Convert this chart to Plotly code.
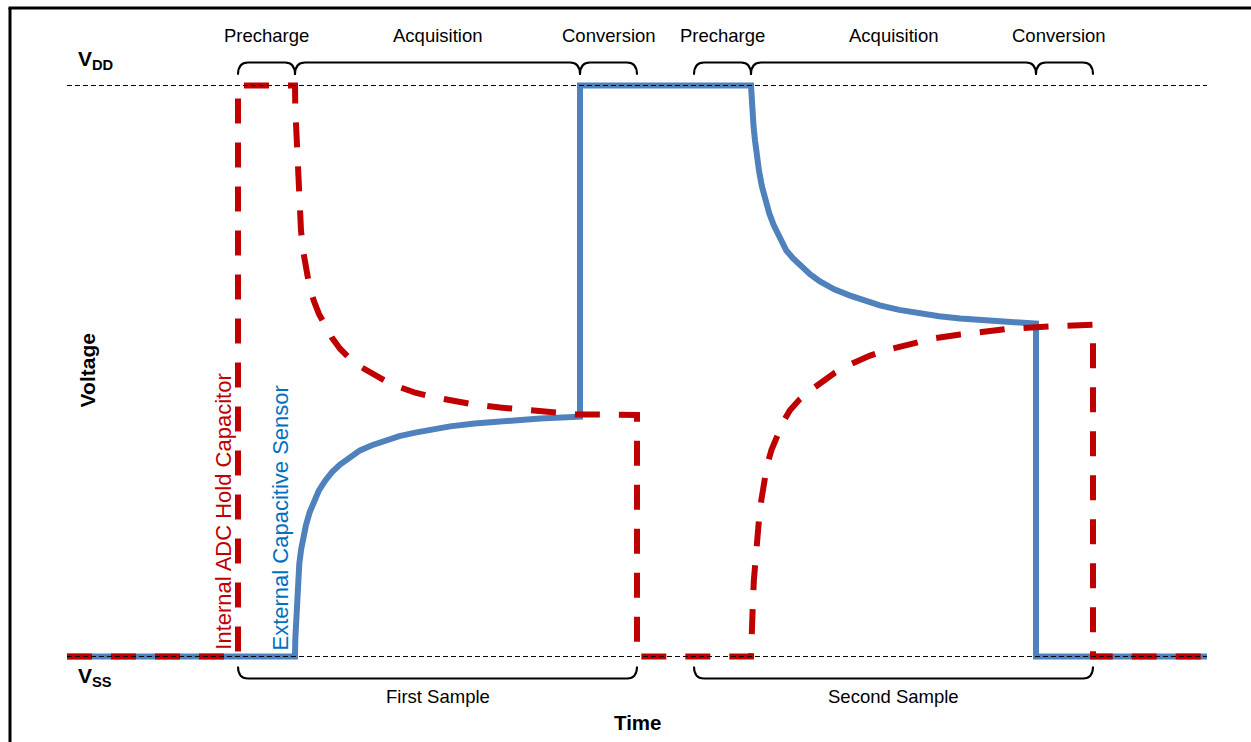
import plotly.graph_objects as go

# ---------------- data (time in arbitrary units, voltage normalised: VSS = 0, VDD = 1) ----------------
t_start, t_end = 0, 200
v_ss, v_dd = 0.0, 1.0

phase_labels = ["Precharge", "Acquisition", "Conversion", "Precharge", "Acquisition", "Conversion"]
phase_start = [30, 40, 90, 110, 120, 170]
phase_end = [40, 90, 100, 120, 170, 180]
phase_label_t = [35, 65, 95, 115, 145, 174]

sample_labels = ["First Sample", "Second Sample"]
sample_start = [30, 110]
sample_end = [100, 180]

# External capacitive sensor (blue)
sensor_rise_t = [40, 40.05, 40.2, 40.35, 40.5, 40.75, 41.05, 41.45, 41.9, 42.55, 43.3, 44.2, 45.3, 46.5,
                 47.9, 49.6, 51.4, 53.5, 55.8, 58.3, 61.1, 64, 67.2, 71.5, 76, 83, 90]
sensor_rise_v = [0, 0.03, 0.063, 0.1, 0.133, 0.162, 0.186, 0.209, 0.229, 0.252, 0.273, 0.291, 0.308, 0.323,
                 0.336, 0.349, 0.361, 0.370, 0.378, 0.386, 0.392, 0.398, 0.403, 0.408, 0.412, 0.417, 0.420]
sensor_decay_t = [120, 120.08, 120.25, 120.45, 120.7, 121.0, 121.4, 121.9, 122.5, 123.2, 124.0, 125.0, 126.2,
                  127.4, 128.8, 130.4, 132.1, 134.6, 137.4, 139.9, 142.6, 146, 149.6, 153, 156.7, 160, 163.7, 170]
sensor_decay_v = [1, 0.975, 0.952, 0.928, 0.904, 0.877, 0.851, 0.824, 0.799, 0.776, 0.755, 0.732, 0.711,
                  0.697, 0.683, 0.669, 0.657, 0.643, 0.632, 0.623, 0.615, 0.607, 0.601, 0.596, 0.592, 0.589, 0.587, 0.583]

# Internal ADC hold capacitor (red dashed)
hold_decay_t = [40, 40.05, 40.2, 40.35, 40.5, 40.75, 41.05, 41.45, 41.9, 42.55, 43.3, 44.2, 45.3, 46.5,
                47.9, 49.6, 51.4, 53.5, 55.8, 58.3, 61.1, 64, 67.2, 71.5, 76, 83, 89.6, 100]
hold_decay_v = [1, 0.96, 0.921, 0.876, 0.834, 0.789, 0.746, 0.709, 0.676, 0.647, 0.623, 0.600, 0.580, 0.558,
                0.539, 0.522, 0.508, 0.495, 0.483, 0.472, 0.462, 0.455, 0.448, 0.441, 0.436, 0.429, 0.424, 0.423]
hold_rise_t = [120, 120.05, 120.2, 120.35, 120.5, 120.75, 121, 121.4, 121.8, 122.25, 122.8, 123.6, 124.6,
               125.6, 126.8, 128.5, 130.4, 132.5, 134.7, 137.7, 140.9, 144.3, 147.9, 152, 156.7, 161, 165.4,
               172.5, 180]
hold_rise_v = [0, 0.03, 0.063, 0.1, 0.133, 0.169, 0.203, 0.240, 0.273, 0.305, 0.334, 0.362, 0.387,
               0.410, 0.431, 0.450, 0.466, 0.482, 0.497, 0.513, 0.527, 0.538, 0.548, 0.557, 0.564, 0.570, 0.574,
               0.578, 0.581]

# ---------------- build traces ----------------
sensor_t = [t_start] + sensor_rise_t + [sensor_rise_t[-1]] + sensor_decay_t + [sensor_decay_t[-1], t_end]
sensor_v = [v_ss] + sensor_rise_v + [v_dd] + sensor_decay_v + [v_ss, v_ss]

hold_t = [t_start, phase_start[0], phase_start[0]] + hold_decay_t + [hold_decay_t[-1]] + hold_rise_t + [hold_rise_t[-1], t_end]
hold_v = [v_ss, v_ss, v_dd] + hold_decay_v + [v_ss] + hold_rise_v + [v_ss, v_ss]

RED = "#C00000"
BLUE = "#4F81BD"
BLUE_TXT = "#0070C0"
FONT = "Arial, 'Liberation Sans', sans-serif"

fig = go.Figure()
fig.add_trace(go.Scatter(x=sensor_t, y=sensor_v, mode="lines",
                         line=dict(color=BLUE, width=6), hoverinfo="skip", showlegend=False))
fig.add_trace(go.Scatter(x=hold_t, y=hold_v, mode="lines",
                         line=dict(color=RED, width=6, dash="25px,19px"), hoverinfo="skip", showlegend=False))
for lvl in (v_dd, v_ss):
    fig.add_trace(go.Scatter(x=[t_start, t_end], y=[lvl, lvl], mode="lines",
                             line=dict(color="black", width=1, dash="5px,3px"),
                             hoverinfo="skip", showlegend=False))

# ---------------- brackets ----------------
r_t = 1.75
def bracket(t0, t1, v_line, v_tip):
    return (f"M {t0},{v_tip} Q {t0},{v_line} {t0 + r_t},{v_line} "
            f"L {t1 - r_t},{v_line} Q {t1},{v_line} {t1},{v_tip}")

shapes = []
for a, b in zip(phase_start, phase_end):
    shapes.append(dict(type="path", xref="x", yref="y", path=bracket(a, b, 1.0403, 1.019),
                       line=dict(color="black", width=2)))
for a, b in zip(sample_start, sample_end):
    shapes.append(dict(type="path", xref="x", yref="y", path=bracket(a, b, -0.0385, -0.0175),
                       line=dict(color="black", width=2)))
# frame
shapes.append(dict(type="line", xref="paper", yref="paper", x0=10 / 1251, x1=10 / 1251, y0=0, y1=1 - 8 / 742,
                   line=dict(color="black", width=3)))
shapes.append(dict(type="line", xref="paper", yref="paper", x0=8.5 / 1251, x1=1, y0=1 - 8 / 742, y1=1 - 8 / 742,
                   line=dict(color="black", width=3)))

annotations = []
for lab, tx in zip(phase_labels, phase_label_t):
    annotations.append(dict(x=tx, y=1.0876, text=lab, showarrow=False,
                            font=dict(size=18.5, color="black", family=FONT)))
for lab, a, b in zip(sample_labels, sample_start, sample_end):
    annotations.append(dict(x=(a + b) / 2, y=-0.070, text=lab, showarrow=False,
                            font=dict(size=18.5, color="black", family=FONT)))
annotations += [
    dict(x=100, y=-0.1156, text="<b>Time</b>", showarrow=False, font=dict(size=20.5, color="black", family=FONT)),
    dict(x=3.5, y=0.501, text="<b>Voltage</b>", textangle=-90, showarrow=False,
         font=dict(size=21, color="black", family=FONT)),
    dict(x=1.6, y=1.045, text="<b>V<sub>DD</sub></b>", xanchor="left", showarrow=False,
         font=dict(size=21, color="black", family=FONT)),
    dict(x=1.6, y=-0.0355, text="<b>V<sub>SS</sub></b>", xanchor="left", showarrow=False,
         font=dict(size=21, color="black", family=FONT)),
    dict(x=27.4, y=0.254, text="Internal ADC Hold Capacitor", textangle=-90, showarrow=False,
         font=dict(size=22, color=RED, family=FONT)),
    dict(x=37.5, y=0.243, text="External Capacitive Sensor", textangle=-90, showarrow=False,
         font=dict(size=22, color=BLUE_TXT, family=FONT)),
]

fig.update_layout(
    width=1251, height=742, autosize=False,
    margin=dict(l=0, r=0, t=0, b=0),
    paper_bgcolor="white", plot_bgcolor="white",
    xaxis=dict(range=[-11.7544, 207.7193], visible=False, fixedrange=True),
    yaxis=dict(range=[-0.14974, 1.14974], visible=False, fixedrange=True),
    shapes=shapes, annotations=annotations,
)

fig.write_html("out.html", post_script="document.body.style.margin='0';",
               config={"displayModeBar": False})
